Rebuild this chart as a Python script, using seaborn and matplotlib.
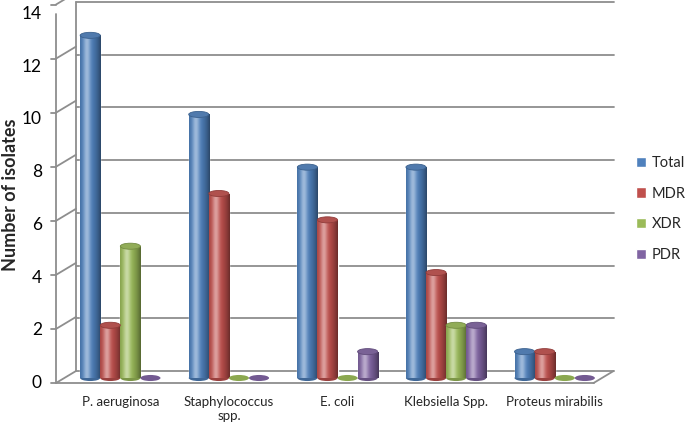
import matplotlib.pyplot as plt
import matplotlib.transforms as mtransforms
from matplotlib.patches import Ellipse, Patch
import matplotlib.colors as mcolors
import numpy as np
import pandas as pd
import seaborn as sns

organisms = ["P. aeruginosa", "Staphylococcus\nspp.", "E. coli", "Klebsiella Spp.", "Proteus mirabilis"]
series = ["Total", "MDR", "XDR", "PDR"]
total = [13, 10, 8, 8, 1]
mdr = [2, 7, 6, 4, 1]
xdr = [5, 0, 0, 2, 0]
pdr = [0, 0, 1, 2, 0]
colors = ["#4F81BD", "#C0504D", "#9BBB59", "#8064A2"]
yticks = [0, 2, 4, 6, 8, 10, 12, 14]

df = pd.DataFrame({
    "organism": organisms * len(series),
    "type": np.repeat(series, len(organisms)),
    "count": total + mdr + xdr + pdr,
})

sns.set_style("white")
plt.rcParams["font.family"] = ["Lato", "DejaVu Sans"]

W, H = 685, 425
fig = plt.figure(figsize=(W / 100, H / 100), dpi=100)
ax = fig.add_axes([66 / W, 47 / H, 543 / W, 369 / H])

sns.barplot(data=df, x="organism", y="count", hue="type", palette=colors,
            saturation=1, width=0.74, ax=ax, legend=False, zorder=3)


def shifted(dx, dy):
    # pseudo 3d planes: shift in pixels
    return ax.transData + mtransforms.ScaledTranslation(dx / 100, dy / 100, fig.dpi_scale_trans)


back = shifted(10, 7)
front = shifted(-10, -5)
grid_c = "#8E8E8E"
x0, x1 = -0.5, 4.45

# back wall gridlines
for t in yticks:
    ax.plot([x0, x1], [t, t], transform=back, color=grid_c, lw=1.3, zorder=1, clip_on=False)
ax.plot([x0, x0], [0, 14], transform=back, color=grid_c, lw=1.3, zorder=1, clip_on=False)


def link(p, q, tp, tq, **kw):
    a = fig.transFigure.inverted().transform(tp.transform(p))
    b = fig.transFigure.inverted().transform(tq.transform(q))
    fig.add_artist(plt.Line2D([a[0], b[0]], [a[1], b[1]], transform=fig.transFigure, **kw))


# front axis, ticks, diagonals
ax.plot([x0, x0], [0, 14], transform=front, color=grid_c, lw=1.3, clip_on=False)
ax.plot([x0, x1], [0, 0], transform=front, color=grid_c, lw=1.3, clip_on=False)
link((x1, 0), (x1, 0), front, back, color=grid_c, lw=1.3)
tick_t = shifted(-15, -5)
for t in yticks:
    link((x0, t), (x0, t), front, back, color=grid_c, lw=1.3)
    link((x0, t), (x0, t), front, tick_t, color=grid_c, lw=1.3)
    ax.text(x0, t, str(t), transform=shifted(-24, -5), ha="right", va="center",
            fontsize=12.5, color="black")

# cylinder shading
u = np.linspace(0, 1, 80)
light = 0.45 * np.exp(-((u - 0.33) / 0.17) ** 2)
dark = 0.45 * (np.abs(u - 0.35) / 0.65) ** 2
eh = 0.23
for cont, c in zip(ax.containers, colors):
    rgb = np.array(mcolors.to_rgb(c))
    img = rgb[None, :] * (1 - dark[:, None]) + (1 - rgb[None, :]) * light[:, None]
    img = np.clip(img, 0, 1)[None, :, :]
    for bar in cont:
        bx, bw, bh = bar.get_x(), bar.get_width(), bar.get_height()
        xc = bx + bw / 2
        if bh > 0:
            im = ax.imshow(img, extent=[bx, bx + bw, 0, bh], aspect="auto",
                           interpolation="bilinear", zorder=3)
            im.set_clip_path(bar)
            ax.add_patch(Ellipse((xc, 0), bw, eh, facecolor=rgb * 0.8, edgecolor="none",
                                 zorder=2.9, clip_on=False))
            top = np.clip(rgb * 0.85 + 0.05, 0, 1)
            ax.add_patch(Ellipse((xc, bh), bw, eh, facecolor=top, edgecolor=rgb * 0.75,
                                 lw=0.6, zorder=4, clip_on=False))
        else:
            ax.add_patch(Ellipse((xc, 0), bw, eh, facecolor=rgb * 0.9, edgecolor="none",
                                 zorder=4, clip_on=False))

ax.set_xlim(-0.5, 4.5)
ax.set_ylim(0, 14)
ax.set_yticks([])
ax.set_xlabel("")
ax.set_ylabel("")
ax.tick_params(axis="x", length=0, pad=13, labelsize=9.5)
for s in ax.spines.values():
    s.set_visible(False)
ax.patch.set_alpha(0)

fig.text(11 / W, 1 - 195 / H, "Number of isolates", rotation=90, ha="center", va="center",
         fontsize=13, fontweight="bold")

handles = [Patch(facecolor=c) for c in colors]
fig.legend(handles, series, loc="center left", bbox_to_anchor=(636 / W, 1 - 209 / H),
           frameon=False, fontsize=10.5, handlelength=0.7, handleheight=0.7,
           handletextpad=0.4, labelspacing=1.15, borderpad=0, borderaxespad=0)

fig.savefig("out.png", dpi=100)
